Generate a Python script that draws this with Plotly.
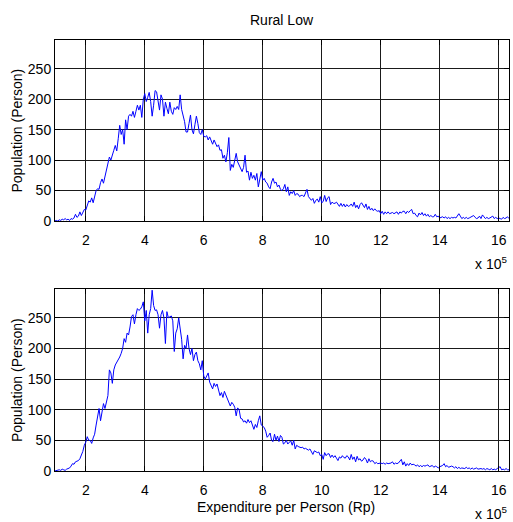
import plotly.graph_objects as go
from plotly.subplots import make_subplots

# Expenditure per person, in units of 10^5 Rp (bin centres)
X_START = 0.95
X_STEP = 0.05

# Top panel: population (persons) per expenditure bin
top_pop = (
    [0, 1, 0, 2, 1, 3, 2, 4, 2, 3, 1, 4, 3, 5, 11, 6, 8, 15, 9, 14, 19]
    + [18, 27, 33, 31, 38, 30, 40, 50, 53, 52, 63, 69, 62, 72, 80, 92, 105, 100, 110, 116]
    + [124, 115, 135, 157, 142, 150, 126, 166, 150, 172, 175, 172, 180, 170, 180, 190, 182, 190, 170, 200]
    + [209, 196, 203, 211, 196, 172, 190, 214, 212, 196, 182, 207, 200, 172, 195, 185, 176, 195, 180, 175]
    + [186, 183, 188, 183, 207, 183, 174, 163, 146, 146, 160, 174, 150, 143, 158, 172, 160, 145, 142, 150]
    + [139, 138, 140, 133, 138, 130, 126, 133, 128, 122, 125, 116, 117, 103, 108, 97, 112, 137, 83, 93]
    + [88, 103, 111, 97, 92, 88, 81, 88, 108, 80, 82, 67, 80, 70, 75, 67, 78, 56, 70, 81]
    + [67, 70, 64, 62, 56, 53, 64, 70, 62, 64, 56, 59, 52, 50, 53, 60, 48, 56, 42, 48]
    + [45, 50, 42, 45, 44, 40, 42, 42, 40, 45, 52, 40, 36, 34, 37, 29, 34, 36, 31, 40]
    + [30, 32, 42, 32, 38, 40, 27, 31, 29, 29, 31, 28, 24, 29, 24, 28, 23, 27, 24, 25]
    + [28, 24, 31, 22, 26, 20, 27, 30, 25, 22, 28, 19, 24, 18, 21, 17, 20, 17, 16, 17]
    + [12, 16, 11, 15, 12, 15, 12, 13, 14, 12, 14, 15, 11, 15, 13, 16, 16, 12, 16, 14]
    + [17, 19, 12, 13, 9, 7, 13, 10, 14, 9, 12, 8, 11, 7, 9, 7, 7, 11, 7, 8]
    + [5, 6, 7, 5, 7, 4, 6, 4, 6, 5, 6, 5, 9, 12, 8, 4, 6, 4, 6, 4]
    + [5, 6, 7, 9, 6, 4, 5, 8, 4, 10, 7, 4, 6, 4, 5, 6, 8, 4, 6, 4]
    + [5, 4, 3, 6, 4, 5, 7, 4]
)

# Bottom panel: population (persons) per expenditure bin
bottom_pop = (
    [0, 1, 1, 2, 1, 3, 2, 1, 3, 4, 5, 8, 12, 11, 15, 16, 17, 20, 25, 32, 42]
    + [47, 56, 50, 50, 45, 54, 60, 75, 90, 102, 82, 100, 110, 102, 115, 123, 165, 160, 143, 165]
    + [173, 177, 180, 186, 192, 200, 216, 210, 225, 222, 235, 252, 255, 240, 255, 265, 262, 264, 268, 276]
    + [245, 262, 225, 255, 265, 295, 270, 262, 263, 255, 233, 255, 262, 250, 208, 260, 250, 252, 253, 245]
    + [195, 225, 232, 250, 230, 215, 183, 205, 200, 222, 200, 190, 200, 180, 190, 194, 180, 175, 165, 180]
    + [155, 150, 155, 160, 145, 139, 134, 143, 138, 142, 132, 123, 128, 120, 130, 124, 118, 115, 106, 112]
    + [109, 104, 90, 103, 100, 86, 85, 80, 82, 78, 84, 79, 82, 75, 68, 76, 71, 82, 90, 75]
    + [73, 71, 65, 55, 58, 62, 50, 48, 60, 50, 57, 48, 58, 55, 44, 46, 50, 44, 47, 49]
    + [42, 50, 36, 42, 40, 39, 38, 39, 36, 37, 36, 34, 36, 30, 27, 33, 32, 30, 31, 25]
    + [27, 19, 30, 25, 28, 28, 22, 26, 22, 25, 21, 17, 23, 21, 25, 22, 21, 25, 23, 18]
    + [27, 19, 23, 15, 24, 18, 20, 16, 18, 22, 19, 13, 20, 15, 17, 16, 12, 14, 12, 13]
    + [13, 12, 13, 11, 13, 12, 12, 13, 15, 11, 13, 12, 13, 16, 19, 10, 15, 8, 12, 9]
    + [13, 10, 11, 10, 8, 10, 7, 9, 7, 9, 8, 9, 10, 7, 8, 9, 6, 8, 7, 5]
    + [7, 8, 9, 12, 7, 9, 6, 7, 8, 7, 5, 7, 4, 6, 4, 5, 4, 4, 6, 4]
    + [5, 3, 5, 3, 4, 5, 3, 4, 4, 3, 4, 2, 4, 3, 2, 4, 2, 3, 2, 4]
    + [5, 7, 2, 3, 2, 4, 2, 2]
)

x_top = [round(X_START + i * X_STEP, 2) for i in range(len(top_pop))]
x_bottom = [round(X_START + i * X_STEP, 2) for i in range(len(bottom_pop))]

x_tickvals = [2, 4, 6, 8, 10, 12, 14, 16]
y_tickvals = [0, 50, 100, 150, 200, 250]

TITLE = "Rural Low"
Y_LABEL = "Population (Person)"
X_LABEL = "Expenditure per Person (Rp)"
X_EXP = "x 10<sup>5</sup>"

FONT = "Liberation Sans, Arial, sans-serif"

fig = make_subplots(rows=2, cols=1, vertical_spacing=0.0)
fig.add_trace(go.Scatter(x=x_top, y=top_pop, mode="lines",
                         line=dict(color="#0000ff", width=1), showlegend=False), row=1, col=1)
fig.add_trace(go.Scatter(x=x_bottom, y=bottom_pop, mode="lines",
                         line=dict(color="#0000ff", width=1), showlegend=False), row=2, col=1)

axis_common = dict(
    showline=True, linecolor="black", linewidth=1, mirror="ticks",
    ticks="inside", ticklen=5, tickcolor="black",
    showgrid=True, gridcolor="#1a1a1a", gridwidth=1,
    zeroline=False,
    tickfont=dict(family=FONT, size=14, color="black"),
)

fig.update_xaxes(range=[0.956, 16.35], tickvals=x_tickvals, ticklabelstandoff=6, **axis_common)
fig.update_yaxes(range=[0, 297], tickvals=y_tickvals, **axis_common)

fig.update_layout(
    width=513, height=522,
    margin=dict(l=55, r=4, t=40, b=51),
    paper_bgcolor="white", plot_bgcolor="white",
    font=dict(family=FONT, size=14, color="black"),
    yaxis=dict(domain=[0.58, 1.0]),
    yaxis2=dict(domain=[0.0, 0.4223]),
)

annotations = [
    dict(text=TITLE, x=0.5, y=1.0464, xref="paper", yref="paper",
         xanchor="center", yanchor="middle", showarrow=False, font=dict(size=14)),
    dict(text=Y_LABEL, x=-0.0837, y=0.79, xref="paper", yref="paper", textangle=-90,
         xanchor="center", yanchor="middle", showarrow=False, font=dict(size=14)),
    dict(text=Y_LABEL, x=-0.0837, y=0.211, xref="paper", yref="paper", textangle=-90,
         xanchor="center", yanchor="middle", showarrow=False, font=dict(size=14)),
    dict(text=X_LABEL, x=0.508, y=-0.084, xref="paper", yref="paper",
         xanchor="center", yanchor="middle", showarrow=False, font=dict(size=14)),
    dict(text=X_EXP, x=1.0, y=0.482, xref="paper", yref="paper",
         xanchor="right", yanchor="middle", showarrow=False, font=dict(size=14)),
    dict(text=X_EXP, x=1.0, y=-0.097, xref="paper", yref="paper",
         xanchor="right", yanchor="middle", showarrow=False, font=dict(size=14)),
]
fig.update_layout(annotations=annotations)

fig.write_html(
    "out.html",
    config={"displayModeBar": False},
    post_script="document.body.style.margin='0';document.body.style.overflow='hidden';",
)
